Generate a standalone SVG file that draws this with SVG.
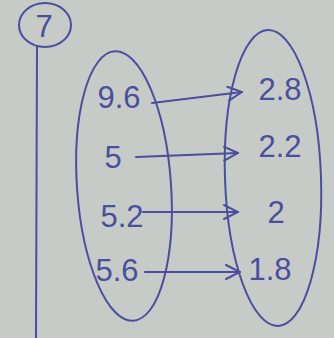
<svg xmlns="http://www.w3.org/2000/svg" width="334" height="338" viewBox="0 0 334 338">
<style>
.ink{fill:none;stroke:#4a4e9e;stroke-width:2;stroke-linecap:round}
.t{font-family:"Liberation Sans","DejaVu Sans",sans-serif;font-size:31px;fill:#4a4e9e;text-anchor:middle;dominant-baseline:central}
</style>
<defs>
<marker id="ah" viewBox="0 0 16 16" refX="15" refY="8" markerWidth="16" markerHeight="16" markerUnits="userSpaceOnUse" orient="auto">
<polyline points="1,1 15,8 1,15" fill="none" stroke="#4a4e9e" stroke-width="2" stroke-linecap="round"/>
</marker>
</defs>
<rect width="334" height="338" fill="#c7cbc8"/>
<g id="label7">
<ellipse class="ink" cx="45" cy="25" rx="26" ry="22"/>
<text class="t" x="44" y="26" font-size="30">7</text>
<line class="ink" x1="37" y1="47" x2="36" y2="338"/>
</g>
<g id="domain">
<ellipse class="ink" cx="124" cy="186" rx="47" ry="135" transform="rotate(-4 124 186)"/>
<text class="t" x="119" y="97">9.6</text>
<text class="t" x="113" y="157">5</text>
<text class="t" x="122" y="216">5.2</text>
<text class="t" x="117" y="270">5.6</text>
</g>
<g id="range">
<ellipse class="ink" cx="273" cy="178" rx="48" ry="148" transform="rotate(-2 273 178)"/>
<text class="t" x="280" y="89">2.8</text>
<text class="t" x="280" y="146">2.2</text>
<text class="t" x="276" y="212">2</text>
<text class="t" x="270" y="269">1.8</text>
</g>
<g id="connectors">
<line class="ink" x1="152" y1="103" x2="242" y2="92" marker-end="url(#ah)"/>
<line class="ink" x1="136" y1="157" x2="238" y2="153" marker-end="url(#ah)"/>
<line class="ink" x1="143" y1="212" x2="238" y2="212" marker-end="url(#ah)"/>
<line class="ink" x1="145" y1="272" x2="240" y2="272" marker-end="url(#ah)"/>
</g>
</svg>
